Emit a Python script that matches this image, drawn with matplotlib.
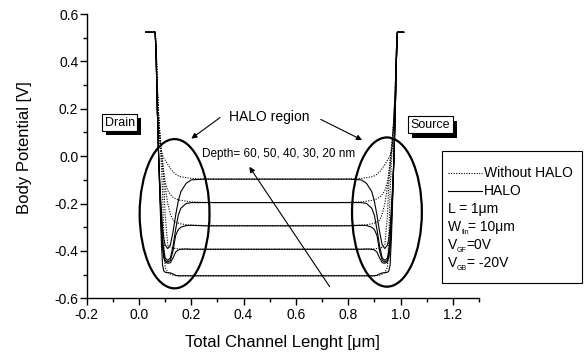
import matplotlib
matplotlib.use('Agg')
import matplotlib.pyplot as plt
from matplotlib.patches import Ellipse, Rectangle
from matplotlib.lines import Line2D
import matplotlib.patheffects as pe

plt.rcParams['font.family'] = ['Liberation Sans', 'DejaVu Sans']

# position grid along the channel (um), drain side and source side
x_drain = [0.026, 0.062, 0.066, 0.070, 0.075, 0.080, 0.085, 0.090, 0.095, 0.100,
           0.110, 0.120, 0.130, 0.140, 0.150, 0.160, 0.180, 0.200, 0.250, 0.300]
x_source = [1.012, 0.988, 0.984, 0.980, 0.975, 0.970, 0.965, 0.960, 0.955, 0.950,
            0.940, 0.930, 0.920, 0.910, 0.900, 0.890, 0.870, 0.850, 0.800, 0.750]

# body potential without HALO (V), one list per depth
noh_60 = [0.523, 0.523, 0.45, 0.30, 0.17, 0.04, 0.02, 0.005, -0.008, -0.017,
          -0.035, -0.052, -0.066, -0.076, -0.083, -0.087, -0.091, -0.094, -0.096, -0.097]
noh_50 = [0.523, 0.523, 0.44, 0.28, 0.16, 0.08, 0.03, -0.02, -0.07, -0.11,
          -0.145, -0.162, -0.174, -0.18, -0.184, -0.187, -0.19, -0.193, -0.195, -0.196]
noh_40 = [0.523, 0.523, 0.44, 0.28, 0.17, 0.09, 0.03, -0.03, -0.08, -0.13,
          -0.20, -0.245, -0.27, -0.278, -0.283, -0.286, -0.289, -0.291, -0.293, -0.294]
noh_30 = [0.523, 0.523, 0.44, 0.28, 0.17, 0.09, 0.02, -0.05, -0.12, -0.25,
          -0.375, -0.385, -0.388, -0.39, -0.391, -0.392, -0.392, -0.393, -0.393, -0.393]
noh_20 = [0.523, 0.523, 0.44, 0.28, 0.16, 0.07, -0.03, -0.15, -0.35, -0.47,
          -0.49, -0.498, -0.502, -0.504, -0.505, -0.505, -0.505, -0.505, -0.505, -0.505]

# body potential with HALO (V)
halo_60 = [0.523, 0.523, 0.40, 0.20, 0.00, -0.12, -0.22, -0.30, -0.35, -0.375,
           -0.39, -0.375, -0.32, -0.25, -0.19, -0.15, -0.115, -0.100, -0.097, -0.097]
halo_50 = [0.523, 0.523, 0.40, 0.20, 0.00, -0.14, -0.26, -0.35, -0.40, -0.43,
           -0.44, -0.43, -0.38, -0.31, -0.25, -0.22, -0.20, -0.196, -0.196, -0.196]
halo_40 = [0.523, 0.523, 0.40, 0.20, 0.00, -0.15, -0.28, -0.37, -0.42, -0.44,
           -0.447, -0.44, -0.40, -0.335, -0.31, -0.30, -0.293, -0.292, -0.294, -0.294]
halo_30 = [0.523, 0.523, 0.40, 0.20, 0.00, -0.16, -0.30, -0.39, -0.43, -0.447,
           -0.452, -0.45, -0.43, -0.405, -0.396, -0.393, -0.392, -0.393, -0.393, -0.393]
halo_20 = [0.523, 0.523, 0.40, 0.20, 0.00, -0.18, -0.35, -0.46, -0.485, -0.49,
           -0.492, -0.493, -0.497, -0.503, -0.505, -0.505, -0.505, -0.505, -0.505, -0.505]

noh_curves = [noh_60, noh_50, noh_40, noh_30, noh_20]
halo_curves = [halo_60, halo_50, halo_40, halo_30, halo_20]

x_ticks = [-0.2, 0.0, 0.2, 0.4, 0.6, 0.8, 1.0, 1.2]
y_ticks = [-0.6, -0.4, -0.2, 0.0, 0.2, 0.4, 0.6]

fig = plt.figure(figsize=(5.87, 3.61), dpi=100)
ax = fig.add_axes([0.1477, 0.1737, 0.6683, 0.7875])

x_full = x_drain + x_source[::-1]
for v in noh_curves:
    ax.plot(x_full, v + v[::-1], color='k', lw=0.8, ls=(0, (1, 1.3)))
for v in halo_curves:
    ax.plot(x_full, v + v[::-1], color='k', lw=0.8)

ax.set_xlim(-0.2, 1.3)
ax.set_ylim(-0.6, 0.6)
ax.set_xticks(x_ticks)
ax.set_yticks(y_ticks)
ax.set_xticklabels(['%.1f' % t for t in x_ticks])
ax.set_yticklabels(['%.1f' % t for t in y_ticks])
ax.set_xticks([-0.1, 0.1, 0.3, 0.5, 0.7, 0.9, 1.1, 1.3], minor=True)
ax.set_yticks([-0.5, -0.3, -0.1, 0.1, 0.3, 0.5], minor=True)
ax.tick_params(which='major', length=5, width=1, labelsize=10, pad=2)
ax.tick_params(which='minor', length=3, width=1)
ax.tick_params(axis='y', pad=1)
for s in ['top', 'right']:
    ax.spines[s].set_visible(False)
for s in ['left', 'bottom']:
    ax.spines[s].set_linewidth(1)

ax.set_xlabel('Total Channel Lenght [μm]', fontsize=12)
ax.set_ylabel('Body Potential [V]', fontsize=12)
ax.xaxis.set_label_coords(0.5, -0.13)
ax.yaxis.set_label_coords(-0.139, 0.529)

# HALO ellipses
ax.add_patch(Ellipse((0.136, -0.243), 0.267, 0.63, fill=False, lw=1.6, color='k'))
ax.add_patch(Ellipse((0.948, -0.236), 0.267, 0.63, fill=False, lw=1.6, color='k'))

ax.text(0.498, 0.166, 'HALO region', fontsize=10, ha='center', va='center')
arr = dict(arrowstyle='-|>', lw=0.8, color='k', mutation_scale=8, shrinkA=0, shrinkB=0)
ax.annotate('', xy=(0.2, 0.074), xytext=(0.31, 0.163), arrowprops=arr)
ax.annotate('', xy=(0.853, 0.068), xytext=(0.695, 0.155), arrowprops=arr)
ax.text(0.533, 0.007, 'Depth= 60, 50, 40, 30, 20 nm', fontsize=8.5, ha='center', va='center')
ax.annotate('', xy=(0.422, -0.045), xytext=(0.729, -0.551), arrowprops=arr)

# Drain / Source boxes with drop shadow
for xx, yy, lab in [(-0.074, 0.142, 'Drain'), (1.114, 0.132, 'Source')]:
    t = ax.text(xx, yy, lab, fontsize=9, ha='center', va='center', color='k',
                bbox=dict(boxstyle='square,pad=0.2', fc='white', ec='k', lw=0.8), clip_on=False)
    t.get_bbox_patch().set_path_effects([
        pe.SimplePatchShadow(offset=(3, -3), shadow_rgbFace='k', alpha=1.0), pe.Normal()])

# legend box
W, H = 587.0, 361.0
fig.patches.append(Rectangle((0.7535, 0.2152), 0.2375, 0.3674, transform=fig.transFigure,
                             fill=False, ec='k', lw=0.8))
fig.add_artist(Line2D([448.3 / W, 481.7 / W], [1 - 172.7 / H] * 2, color='k', lw=0.8,
                      ls=(0, (1, 1.3))))
fig.add_artist(Line2D([448.3 / W, 481.7 / W], [1 - 190.7 / H] * 2, color='k', lw=0.8))
fig.text(484 / W, 1 - 172.7 / H, 'Without HALO', fontsize=10, va='center')
fig.text(484 / W, 1 - 190.7 / H, 'HALO', fontsize=10, va='center')

# parameter lines: main part, small subscript, rest (x positions in pixels)
leg_params = [('L = 1μm', '', ''), ('W', 'fin', '= 10μm'), ('V', 'GF', '=0V'), ('V', 'GB', '= -20V')]
sub_x = [0, 461.5, 456.5, 456.5]
rest_x = [0, 468.5, 466.0, 467.0]
for i, (a, b, c) in enumerate(leg_params):
    yb = 1 - (213 + 18.1 * i) / H
    fig.text(448 / W, yb, a, fontsize=10, va='baseline')
    if b:
        fig.text(sub_x[i] / W, yb - 3 / H, b, fontsize=5, va='baseline')
        fig.text(rest_x[i] / W, yb, c, fontsize=10, va='baseline')

fig.savefig('out.png', dpi=100)
